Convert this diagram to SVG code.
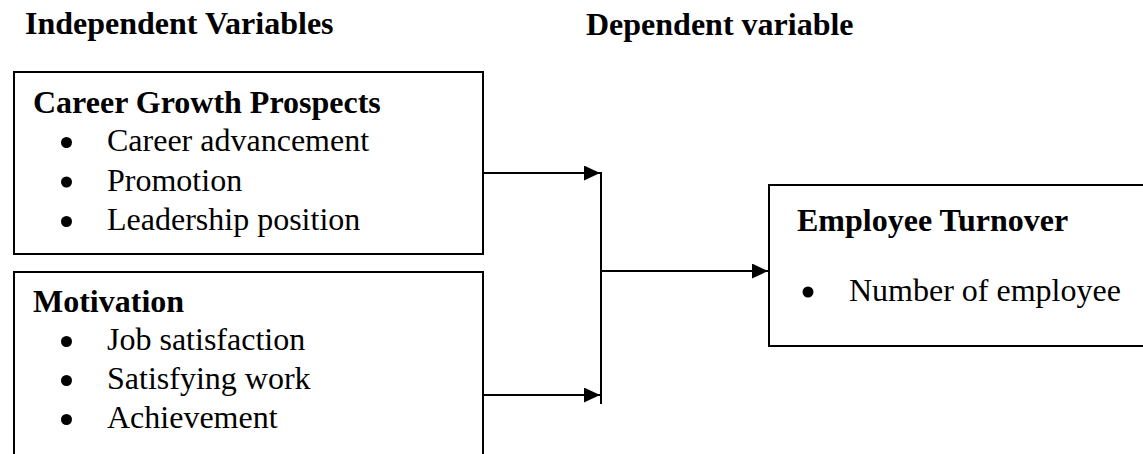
<svg xmlns="http://www.w3.org/2000/svg" width="1143" height="454" viewBox="0 0 1143 454">
  <style>
    .box { fill: #ffffff; stroke: #000000; stroke-width: 2; }
    .hdr { font-family: "Liberation Serif", "Times New Roman", serif; font-size: 32px; font-weight: bold; fill: #000; }
    .item { font-family: "Liberation Serif", "Times New Roman", serif; font-size: 32px; fill: #000; }
    .bullet { fill: #000; }
    .conn { fill: none; stroke: #000000; stroke-width: 2; }
  </style>
  <defs>
    <marker id="arrow" markerUnits="userSpaceOnUse" markerWidth="16" markerHeight="16" refX="16" refY="7.5" orient="auto">
      <path d="M0,0 L16,7.5 L0,15 z" fill="#000"/>
    </marker>
  </defs>
  <rect width="1143" height="454" fill="#ffffff"/>

  <g id="headings">
    <text class="hdr" x="25" y="34">Independent Variables</text>
    <text class="hdr" x="586" y="35">Dependent variable</text>
  </g>

  <g id="career-growth">
    <rect class="box" x="14" y="72" width="469" height="182"/>
    <text class="hdr" x="33" y="113">Career Growth Prospects</text>
    <circle class="bullet" cx="66.5" cy="142.5" r="5.5"/>
    <text class="item" x="107" y="151">Career advancement</text>
    <circle class="bullet" cx="66.5" cy="182" r="5.5"/>
    <text class="item" x="107" y="190.5">Promotion</text>
    <circle class="bullet" cx="66.5" cy="221.5" r="5.5"/>
    <text class="item" x="107" y="230">Leadership position</text>
  </g>

  <g id="motivation">
    <rect class="box" x="14" y="272" width="469" height="200"/>
    <text class="hdr" x="33" y="312">Motivation</text>
    <circle class="bullet" cx="66.5" cy="341.5" r="5.5"/>
    <text class="item" x="107" y="350">Job satisfaction</text>
    <circle class="bullet" cx="66.5" cy="380.5" r="5.5"/>
    <text class="item" x="107" y="389">Satisfying work</text>
    <circle class="bullet" cx="66.5" cy="419.5" r="5.5"/>
    <text class="item" x="107" y="428">Achievement</text>
  </g>

  <g id="employee-turnover">
    <rect class="box" x="769" y="185" width="400" height="161"/>
    <text class="hdr" x="797" y="231">Employee Turnover</text>
    <circle class="bullet" cx="808" cy="292" r="5.5"/>
    <text class="item" x="849" y="300.5">Number of employee</text>
  </g>

  <g id="connectors">
    <line class="conn" x1="484" y1="173" x2="600" y2="173" marker-end="url(#arrow)"/>
    <line class="conn" x1="484" y1="395" x2="600" y2="395" marker-end="url(#arrow)"/>
    <line class="conn" x1="601" y1="172" x2="601" y2="404"/>
    <line class="conn" x1="601" y1="271" x2="768" y2="271" marker-end="url(#arrow)"/>
  </g>
</svg>
